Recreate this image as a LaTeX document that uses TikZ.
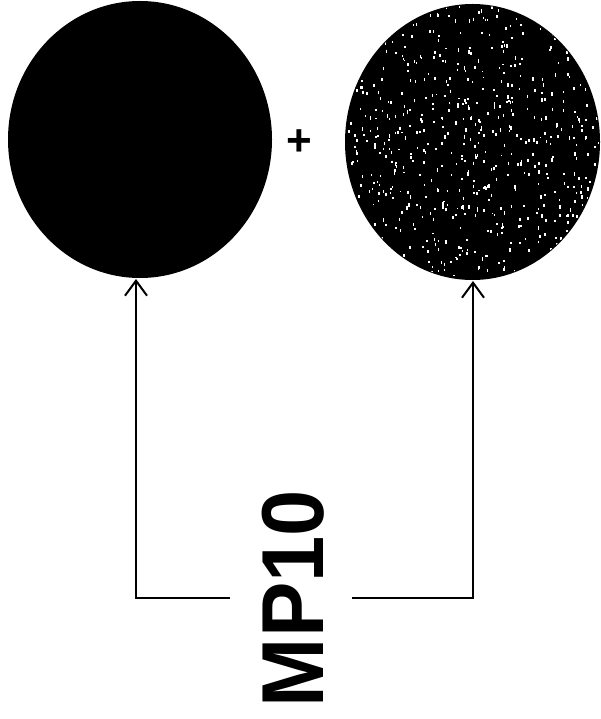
\documentclass[tikz,border=0pt]{standalone}
\usepackage{fontspec}
\setmainfont{Liberation Sans}
\usetikzlibrary{shapes.geometric,arrows.meta}
\begin{document}
\begin{tikzpicture}[x=1pt,y=-1pt,
  blob/.style={ellipse,fill=black,draw=none,inner sep=0pt},
  arr/.style={line width=2pt,-{Straight Barb[length=15pt,width=22pt,line width=2pt]}},
  lbl/.style={rotate=90,inner sep=0pt,font=\fontsize{88}{88}\selectfont\bfseries}]
\useasboundingbox (0,0) rectangle (601,719);
\fill[white] (0,0) rectangle (601,719);
% left ellipse
\node[blob,minimum width=264pt,minimum height=277pt] (L) at (140,139.5) {};
% right speckled ellipse
\node[blob,minimum width=255pt,minimum height=276pt] (R) at (472.5,142) {};
\begin{scope}
\clip (472.5,142) ellipse [x radius=126.5, y radius=137];
\pgfmathsetseed{1234}
\foreach \i in {1,...,700}{
  \pgfmathsetmacro{\px}{345+255*rnd}
  \pgfmathsetmacro{\py}{4+276*rnd}
  \pgfmathsetmacro{\ph}{1.5+2.2*rnd}
  \fill[white] (\px,\py) rectangle ++(1.6,\ph);
}
\end{scope}
% plus sign
\node[inner sep=0pt,font=\fontsize{44}{44}\selectfont\bfseries] (plus) at (299,143) {+};
% label
\node[lbl] (T) at (293.5,598.5) {\scalebox{0.944}[1]{MP10}};
% connectors
\coordinate (la) at (230,598);
\coordinate (ra) at (352,598);
\coordinate (lt) at (136,279);
\coordinate (rt) at (473,281);
\draw[arr] (la) -| (lt);
\draw[arr] (ra) -| (rt);
\end{tikzpicture}
\end{document}
